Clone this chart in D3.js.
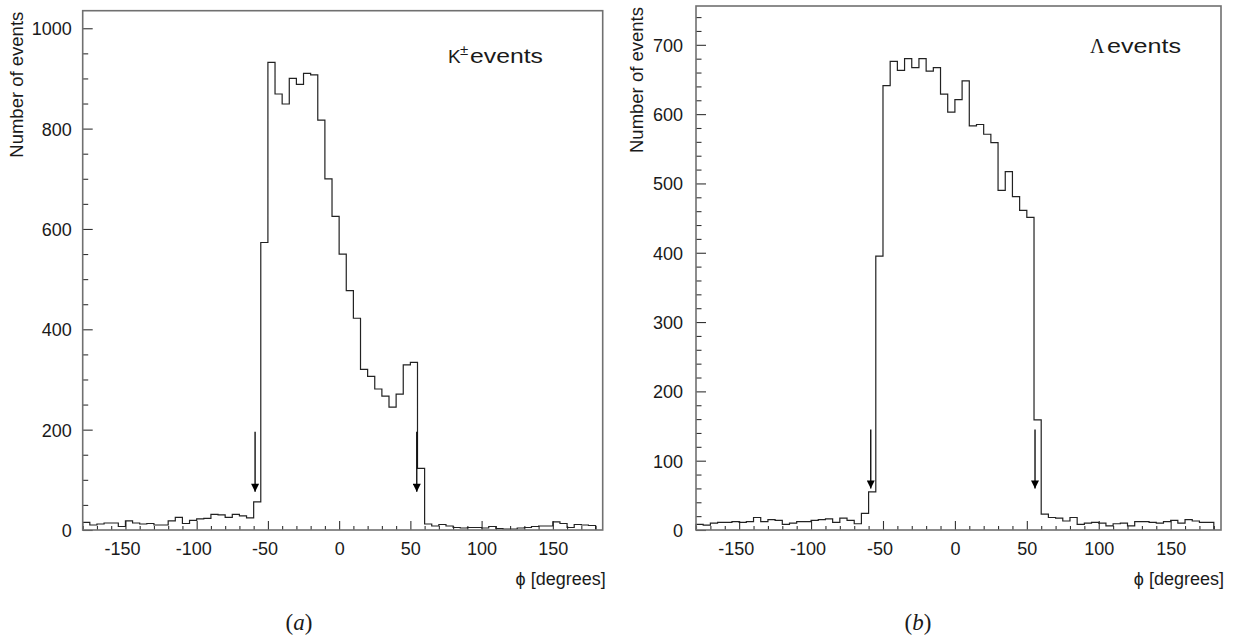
<!DOCTYPE html>
<html><head><meta charset="utf-8">
<script src="https://cdn.jsdelivr.net/npm/d3@7"></script>
<style>
body{margin:0;background:#fff}
text{font-family:"Liberation Sans",Arial,Helvetica,sans-serif;fill:#1a1a1a}
</style>
</head><body>
<svg id="chart" width="1237" height="638"></svg>
<script>
// ---- data ----
const binStart = -180, binWidth = 5;
// K± events per 5-degree bin, phi from -180 to 180
const kaonCounts = [
  15, 10, 12, 14, 14, 7, 18, 14, 12, 13, 10, 10, 18, 25, 13, 19, 22, 23, 31, 30, 25, 31, 28, 24,
  56,
  573, 932, 869, 849, 900, 888, 910, 907, 817, 700, 625, 550, 477, 422, 320, 306, 281, 267, 245, 271, 329, 334, 123,
  12, 8, 11, 8, 5, 4, 5, 5, 4, 7, 3, 2, 2, 4, 5, 7, 8, 8, 16, 13, 5, 11, 10, 9
];
// Lambda events per 5-degree bin
const lambdaCounts = [
  8, 7, 10, 11, 11, 12, 11, 12, 18, 12, 15, 14, 8, 10, 12, 12, 14, 15, 16, 11, 17, 14, 9, 24,
  55,
  395, 641, 676, 663, 680, 667, 680, 662, 667, 629, 603, 621, 648, 583, 585, 571, 559, 490, 517, 481, 461, 451, 159,
  23, 18, 17, 13, 18, 8, 10, 11, 10, 6, 9, 10, 6, 12, 12, 11, 10, 12, 14, 10, 15, 13, 11, 11
];
const xMajorTicks = [-150, -100, -50, 0, 50, 100, 150];
const xMinorTicks = [-180,-170,-160,-140,-130,-120,-110,-90,-80,-70,-60,-40,-30,-20,-10,10,20,30,40,60,70,80,90,110,120,130,140,160,170,180];
const kaonYMajor = [0, 200, 400, 600, 800, 1000];
const kaonYMinor = [50,100,150,250,300,350,450,500,550,650,700,750,850,900,950];
const lambdaYMajor = [0, 100, 200, 300, 400, 500, 600, 700];
const lambdaYMinor = [20,40,60,80,120,140,160,180,220,240,260,280,320,340,360,380,420,440,460,480,520,540,560,580,620,640,660,680,720,740];
const kaonArrows = [{phi: -59, from: 196, to: 76}, {phi: 54.5, from: 196, to: 76}];
const lambdaArrows = [{phi: -58.5, from: 145, to: 60}, {phi: 55.7, from: 145, to: 60}];
const yTitle = "Number of events";
const xTitle = "\u03D5 [degrees]";

// ---- drawing ----
const svg = d3.select("#chart");
const defs = svg.append("defs");
defs.append("marker").attr("id","ah").attr("viewBox","0 0 10 10")
  .attr("refX",10).attr("refY",5).attr("markerWidth",11).attr("markerHeight",8)
  .attr("markerUnits","userSpaceOnUse").attr("orient","auto")
  .append("path").attr("d","M0,0 L10,5 L0,10 Z").attr("fill","#000");

function panel(cfg) {
  const g = svg.append("g");
  const x = d3.scaleLinear().domain([-180, 185]).range([cfg.left, cfg.right]);
  const y = d3.scaleLinear().domain([0, cfg.yMax]).range([cfg.bottom, cfg.top]);

  // ticks (inward)
  const gx = g.append("g").attr("transform", `translate(0,${cfg.bottom})`);
  gx.call(d3.axisBottom(x).tickValues(xMinorTicks).tickSize(-4).tickFormat(""));
  const gxm = g.append("g").attr("transform", `translate(0,${cfg.bottom})`);
  gxm.call(d3.axisBottom(x).tickValues(xMajorTicks).tickSize(-9).tickPadding(12).tickFormat(d => String(d)));
  gxm.selectAll("text").attr("font-size", 18).attr("dx", d => d < 0 ? -3.5 : 0);

  const gy = g.append("g").attr("transform", `translate(${cfg.left},0)`);
  gy.call(d3.axisLeft(y).tickValues(cfg.yMinor).tickSize(-5.5).tickFormat(""));
  const gym = g.append("g").attr("transform", `translate(${cfg.left},0)`);
  gym.call(d3.axisLeft(y).tickValues(cfg.yMajor).tickSize(-10).tickPadding(cfg.yPad).tickFormat(d => String(d)));
  gym.selectAll("text").attr("font-size", 18).attr("dy", "0.36em");

  g.selectAll(".domain").remove();
  g.selectAll(".tick line").attr("stroke", "#333").attr("stroke-width", 1.1);

  // histogram outline
  const pts = [[binStart, 0]];
  cfg.counts.forEach((c, i) => {
    pts.push([binStart + i * binWidth, c]);
    pts.push([binStart + (i + 1) * binWidth, c]);
  });
  pts.push([binStart + cfg.counts.length * binWidth, 0]);
  g.append("path")
    .attr("d", d3.line().x(d => x(d[0])).y(d => y(d[1]))(pts))
    .attr("fill", "none").attr("stroke", "#222").attr("stroke-width", 1.2);

  // frame
  g.append("rect").attr("x", cfg.left).attr("y", cfg.top)
    .attr("width", cfg.right - cfg.left).attr("height", cfg.bottom - cfg.top)
    .attr("fill", "none").attr("stroke", "#707070").attr("stroke-width", 1.6);

  // arrows
  cfg.arrows.forEach(a => {
    g.append("line").attr("x1", x(a.phi)).attr("x2", x(a.phi))
      .attr("y1", y(a.from)).attr("y2", y(a.to))
      .attr("stroke", "#000").attr("stroke-width", 1.3).attr("marker-end", "url(#ah)");
  });

  // axis titles
  g.append("text").attr("transform", `translate(${cfg.yTitleX},${cfg.top + 1}) rotate(-90)`)
    .attr("text-anchor", "end").attr("font-size", 18.5).text(yTitle);
  g.append("text").attr("x", cfg.right + 3).attr("y", 585).attr("text-anchor", "end")
    .attr("font-size", 18).text(xTitle);

  // panel letter
  const lt = g.append("text").attr("x", cfg.letterX).attr("y", 630).attr("text-anchor", "middle")
    .style("font-family", "'Liberation Serif','Times New Roman',serif").attr("font-size", 23);
  lt.append("tspan").text("(");
  lt.append("tspan").style("font-style", "italic").text(cfg.letter);
  lt.append("tspan").text(")");
  return g;
}

const gA = panel({left: 82.7, right: 602.7, top: 10.7, bottom: 530, yMax: 1035,
  counts: kaonCounts, yMajor: kaonYMajor, yMinor: kaonYMinor, yPad: 11,
  arrows: kaonArrows, yTitleX: 23, letterX: 299, letter: "a"});
const gB = panel({left: 696, right: 1221, top: 6, bottom: 530, yMax: 756,
  counts: lambdaCounts, yMajor: lambdaYMajor, yMinor: lambdaYMinor, yPad: 13,
  arrows: lambdaArrows, yTitleX: 643, letterX: 918, letter: "b"});

// in-plot labels
gA.append("text").attr("x", 448).attr("y", 63).attr("font-size", 19).text("K");
gA.append("text").attr("x", 460).attr("y", 55).attr("font-size", 15).text("\u00B1");
gA.append("text").attr("x", 470).attr("y", 63).attr("font-size", 20)
  .attr("textLength", 73).attr("lengthAdjust", "spacingAndGlyphs").text("events");
gB.append("text").attr("x", 1090).attr("y", 53).attr("font-size", 20)
  .style("font-family", "'Liberation Serif','Times New Roman',serif").text("\u039B");
gB.append("text").attr("x", 1107).attr("y", 53).attr("font-size", 20)
  .attr("textLength", 74).attr("lengthAdjust", "spacingAndGlyphs").text("events");
</script>
</body></html>
